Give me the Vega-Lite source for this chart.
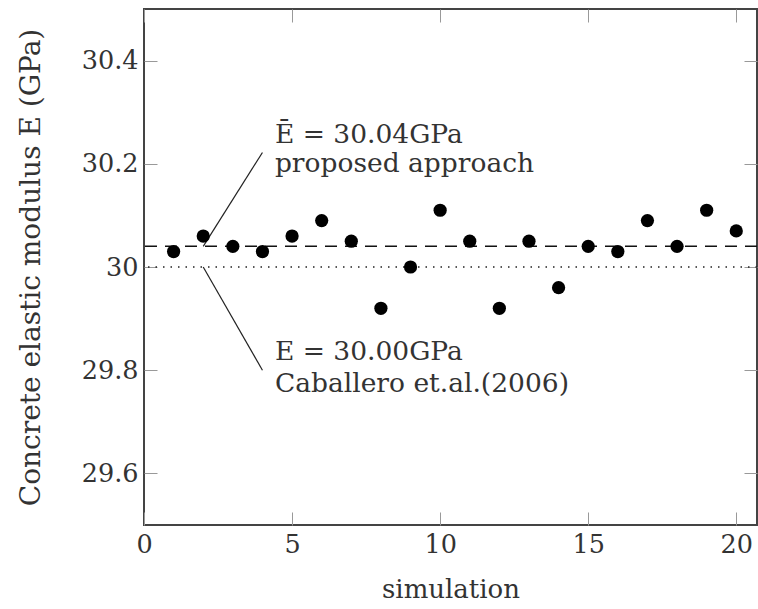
{
  "$schema": "https://vega.github.io/schema/vega-lite/v6.json",
  "width": 613,
  "height": 516,
  "autosize": "none",
  "padding": {"left": 144, "top": 9, "right": 1, "bottom": 84},
  "background": "white",
  "config": {
    "view": {"stroke": "#444", "strokeWidth": 2},
    "font": "DejaVu Serif",
    "axis": {
      "domain": false,
      "grid": false,
      "labelFont": "DejaVu Serif",
      "titleFont": "DejaVu Serif",
      "labelFontSize": 25.5,
      "titleFontSize": 26,
      "labelColor": "#333",
      "titleColor": "#333",
      "titleFontWeight": "normal",
      "labelFlush": false,
      "tickColor": "#999",
      "tickWidth": 1,
      "tickSize": -13
    }
  },
  "datasets": {
    "sims": [
      {"simulation": 1, "E": 30.03},
      {"simulation": 2, "E": 30.06},
      {"simulation": 3, "E": 30.04},
      {"simulation": 4, "E": 30.03},
      {"simulation": 5, "E": 30.06},
      {"simulation": 6, "E": 30.09},
      {"simulation": 7, "E": 30.05},
      {"simulation": 8, "E": 29.92},
      {"simulation": 9, "E": 30.00},
      {"simulation": 10, "E": 30.11},
      {"simulation": 11, "E": 30.05},
      {"simulation": 12, "E": 29.92},
      {"simulation": 13, "E": 30.05},
      {"simulation": 14, "E": 29.96},
      {"simulation": 15, "E": 30.04},
      {"simulation": 16, "E": 30.03},
      {"simulation": 17, "E": 30.09},
      {"simulation": 18, "E": 30.04},
      {"simulation": 19, "E": 30.11},
      {"simulation": 20, "E": 30.07}
    ],
    "leaders": [
      {"simulation": 2, "E": 30.04, "simulation2": 4, "E2": 30.222},
      {"simulation": 2, "E": 30.0, "simulation2": 4, "E2": 29.80}
    ],
    "notes": [
      {"simulation": 4.42, "E": 30.241, "label": "Ē = 30.04GPa"},
      {"simulation": 4.42, "E": 30.185, "label": "proposed approach"},
      {"simulation": 4.42, "E": 29.82, "label": "E = 30.00GPa"},
      {"simulation": 4.42, "E": 29.757, "label": "Caballero et.al.(2006)"}
    ]
  },
  "layer": [
    {
      "data": {"values": [{"E": 30.0}]},
      "mark": {"type": "rule", "stroke": "#222", "strokeWidth": 1.3, "strokeDash": [1.5, 6]},
      "encoding": {
        "y": {"field": "E", "type": "quantitative", "axis": null, "scale": {"domain": [29.5, 30.5], "nice": false, "zero": false}}
      }
    },
    {
      "data": {"values": [{"E": 30.04}]},
      "mark": {"type": "rule", "stroke": "#111", "strokeWidth": 1.5, "strokeDash": [12, 8]},
      "encoding": {
        "y": {"field": "E", "type": "quantitative", "axis": null}
      }
    },
    {
      "data": {"name": "leaders"},
      "mark": {"type": "rule", "stroke": "#222", "strokeWidth": 1.2},
      "encoding": {
        "x": {"field": "simulation", "type": "quantitative", "axis": null},
        "y": {"field": "E", "type": "quantitative", "axis": null},
        "x2": {"field": "simulation2"},
        "y2": {"field": "E2"}
      }
    },
    {
      "data": {"name": "notes"},
      "mark": {"type": "text", "align": "left", "baseline": "alphabetic", "fontSize": 26.5, "font": "DejaVu Serif", "color": "#333"},
      "encoding": {
        "x": {"field": "simulation", "type": "quantitative", "axis": null},
        "y": {"field": "E", "type": "quantitative", "axis": null},
        "text": {"field": "label"}
      }
    },
    {
      "data": {"name": "sims"},
      "mark": {"type": "point", "filled": true, "shape": "circle", "size": 175, "color": "black", "opacity": 1},
      "encoding": {
        "x": {
          "field": "simulation", "type": "quantitative",
          "scale": {"domain": [0, 20.7], "nice": false, "zero": false},
          "axis": {"orient": "bottom", "values": [0, 5, 10, 15, 20], "title": "simulation", "titleFontSize": 26, "labelPadding": 20, "titlePadding": 19}
        },
        "y": {
          "field": "E", "type": "quantitative",
          "axis": {"orient": "left", "values": [29.6, 29.8, 30, 30.2, 30.4], "format": ".1~f", "title": "Concrete elastic modulus E (GPa)", "titleFontSize": 28, "labelPadding": 19, "titlePadding": 36}
        }
      }
    },
    {
      "data": {"name": "sims"},
      "mark": {"type": "point", "opacity": 0},
      "encoding": {
        "x": {
          "field": "simulation", "type": "quantitative",
          "axis": {"orient": "top", "values": [0, 5, 10, 15, 20], "labels": false, "title": null}
        },
        "y": {
          "field": "E", "type": "quantitative",
          "axis": {"orient": "right", "values": [29.6, 29.8, 30, 30.2, 30.4], "labels": false, "title": null}
        }
      }
    }
  ],
  "resolve": {"axis": {"x": "independent", "y": "independent"}}
}
